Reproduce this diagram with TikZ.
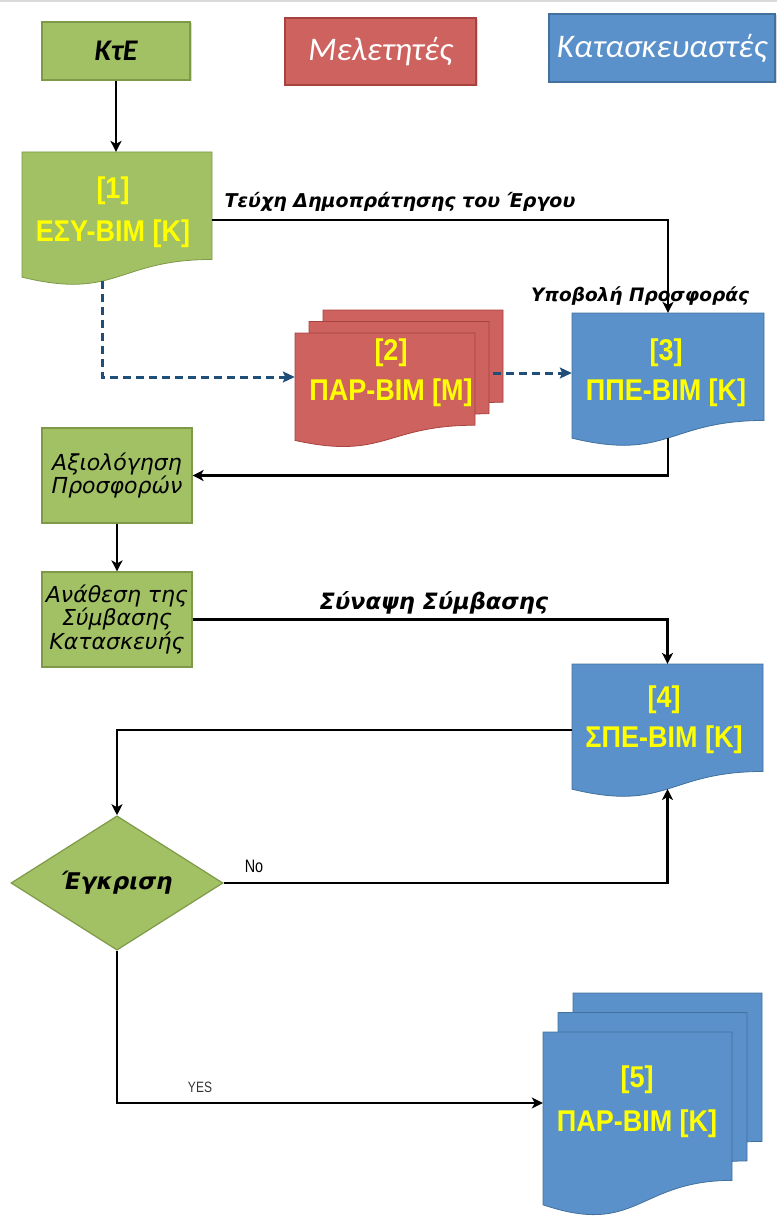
\documentclass[tikz,border=0pt]{standalone}
\usepackage{fontspec}
\usetikzlibrary{shapes.geometric,arrows.meta,calc,shadows}
\setmainfont{DejaVu Sans}
\newfontfamily\calfont{Carlito}
\newfontfamily\arialfont{Liberation Sans}[FakeStretch=0.9]
\newfontfamily\narrowfont{Liberation Sans}[FakeStretch=0.8]
\newfontfamily\verdfont{DejaVu Sans}

\definecolor{gfill}{HTML}{A2C064}
\definecolor{gline}{HTML}{7E9A48}
\definecolor{rfill}{HTML}{CD625F}
\definecolor{rline}{HTML}{A8423F}
\definecolor{bfill}{HTML}{5A91CA}
\definecolor{bline}{HTML}{41719C}
\definecolor{yel}{HTML}{FFFF00}
\definecolor{navy}{HTML}{1F4E79}

% flowchart "document" page: style, left, top, right, full height
\newcommand\docpage[5]{%
  \path[#1] (#2,#3) -- (#4,#3) -- (#4,{#3+0.802*#5})
    .. controls ({(#2+#4)/2},{#3+0.802*#5}) and ({(#2+#4)/2},{#3+1.107*#5})
    .. (#2,{#3+0.934*#5}) -- cycle;}
% three stacked pages: style, left, top, right, height, dx, dy
\newcommand\docstack[7]{%
  \docpage{#1}{#2+2*#6}{#3-2*#7}{#4+2*#6}{#5}
  \docpage{#1}{#2+#6}{#3-#7}{#4+#6}{#5}
  \docpage{#1}{#2}{#3}{#4}{#5}}

\begin{document}
\begin{tikzpicture}[x=1pt,y=-1pt,
  hdr/.style={rectangle, inner sep=0pt, line width=1.2pt,
    drop shadow={shadow xshift=1.5pt, shadow yshift=-1.5pt, opacity=0.3}},
  gpage/.style={fill=gfill, draw=gline, line width=0.8pt},
  rpage/.style={fill=rfill, draw=rline, line width=0.8pt},
  bpage/.style={fill=bfill, draw=bline, line width=0.8pt},
  docbox/.style={rectangle, draw=none, inner sep=0pt},
  doctext/.style={font=\arialfont\bfseries\fontsize{30}{36}\selectfont,
    text=yel, align=center, inner sep=0pt},
  gbox/.style={rectangle, fill=gfill, draw=gline, line width=1.2pt,
    minimum width=150pt, minimum height=95pt, inner sep=0pt, align=center,
    font=\verdfont\itshape\fontsize{22}{23.5}\selectfont},
  lbl/.style={inner sep=0pt, font=\verdfont\bfseries\itshape},
  flow/.style={draw=black, line width=2.8pt,
    -{Stealth[length=11pt,width=11pt,inset=3pt]}},
  dashflow/.style={draw=navy, line width=3pt, dash pattern=on 8pt off 5pt,
    -{Stealth[length=12pt,width=11pt,inset=2.5pt]}}]

\useasboundingbox (0,0) rectangle (777,1225);
\draw[black!15, line width=1.5pt] (0,1) -- (777,1);

% header boxes
\node[hdr, fill=gfill, draw=gline, minimum width=148pt, minimum height=58pt,
  font=\calfont\bfseries\itshape\fontsize{30}{30}\selectfont] (kte) at (116,51) {ΚτΕ};
\node[hdr, fill=rfill, draw=rline, minimum width=191pt, minimum height=67pt, text=white,
  font=\calfont\itshape\fontsize{33}{33}\selectfont] (mel) at (380.5,51.5) {Μελετητές};
\node[hdr, fill=bfill, draw=bline, minimum width=226pt, minimum height=68pt, text=white,
  font=\calfont\itshape\fontsize{33}{33}\selectfont] (kat) at (662,48) {Κατασκευαστές};

% document pages
\docpage{gpage}{22}{152}{212}{134}
\docstack{rpage}{295}{333}{475}{115}{14}{11.5}
\docpage{bpage}{572}{313}{764}{134}
\docpage{bpage}{572}{664}{763}{134}
\docstack{bpage}{543}{1032}{732}{185}{15}{19.5}

\node[docbox, minimum width=190pt, minimum height=125pt] (d1) at (117,214.6) {};
\node[docbox, minimum width=180pt, minimum height=107pt] (d2) at (385,386.7) {};
\node[docbox, minimum width=192pt, minimum height=125pt] (d3) at (668,375.6) {};
\node[docbox, minimum width=191pt, minimum height=125pt] (d4) at (667.5,726.6) {};
\node[docbox, minimum width=189pt, minimum height=173pt] (d5) at (637.5,1118.4) {};

\node[doctext] (t1) at (113,212) {[1]\\[7pt]ΕΣΥ-ΒΙΜ [K]};
\node[doctext] (t2) at (391,373) {[2]\\[4pt]ΠΑΡ-ΒΙΜ [M]};
\node[doctext] (t3) at (666,373) {[3]\\[4pt]ΠΠΕ-ΒΙΜ [K]};
\node[doctext] (t4) at (664,720) {[4]\\[4pt]ΣΠΕ-ΒΙΜ [K]};
\node[doctext] (t5) at (637,1101.5) {[5]\\[8pt]ΠΑΡ-ΒΙΜ [K]};

% process boxes and decision
\node[gbox] (ev) at (117,475.5) {Αξιολόγηση\\Προσφορών};
\node[gbox] (aw) at (117,619.5) {Ανάθεση της\\Σύμβασης\\Κατασκευής};
\node[diamond, fill=gfill, draw=gline, line width=1.2pt, minimum width=212pt,
  minimum height=116pt, inner sep=0pt,
  font=\verdfont\bfseries\itshape\fontsize{23}{23}\selectfont] (dia) at (117,883) {Έγκριση};

% points on the wavy page edges
\coordinate (d1b) at (102,281);
\coordinate (d3b) at (668,438);
\coordinate (d4b) at (667.5,789);

% connectors
\draw[flow] (kte.south) -- (kte.south |- d1.north);
\draw[flow] ([yshift=-5.4pt]d1.east) -| (d3.north);
\draw[dashflow] (d1b) |- ([yshift=9.7pt]d2.west);
\draw[dashflow] ([shift={(18pt,13.7pt)}]d2.east) coordinate (s23) -- (s23 -| d3.west);
\draw[flow] (d3b) |- (ev.east);
\draw[flow] (ev.south) -- (aw.north);
\draw[flow] (aw.east) -| (d4.north);
\draw[flow] ([yshift=-3.4pt]d4.west) -| (dia.north);
\draw[flow] (dia.east) -| (d4b);
\draw[flow] (dia.south) |- ([yshift=15.4pt]d5.west);

% connector labels
\node[lbl, font=\verdfont\bfseries\itshape\fontsize{19}{19}\selectfont] (l1) at (400,202) {Τεύχη Δημοπράτησης του Έργου};
\node[lbl, font=\verdfont\bfseries\itshape\fontsize{18.5}{18.5}\selectfont] (l2) at (640,296) {Υποβολή Προσφοράς};
\node[lbl, font=\verdfont\bfseries\itshape\fontsize{22.5}{22.5}\selectfont] (l3) at (434,603) {Σύναψη Σύμβασης};
\node[inner sep=0pt, font=\narrowfont\fontsize{18}{18}\selectfont] (lno) at (254,866) {No};
\node[inner sep=0pt, text=black!80, font=\narrowfont\fontsize{15}{15}\selectfont] (lyes) at (200,1087) {YES};
\end{tikzpicture}
\end{document}
